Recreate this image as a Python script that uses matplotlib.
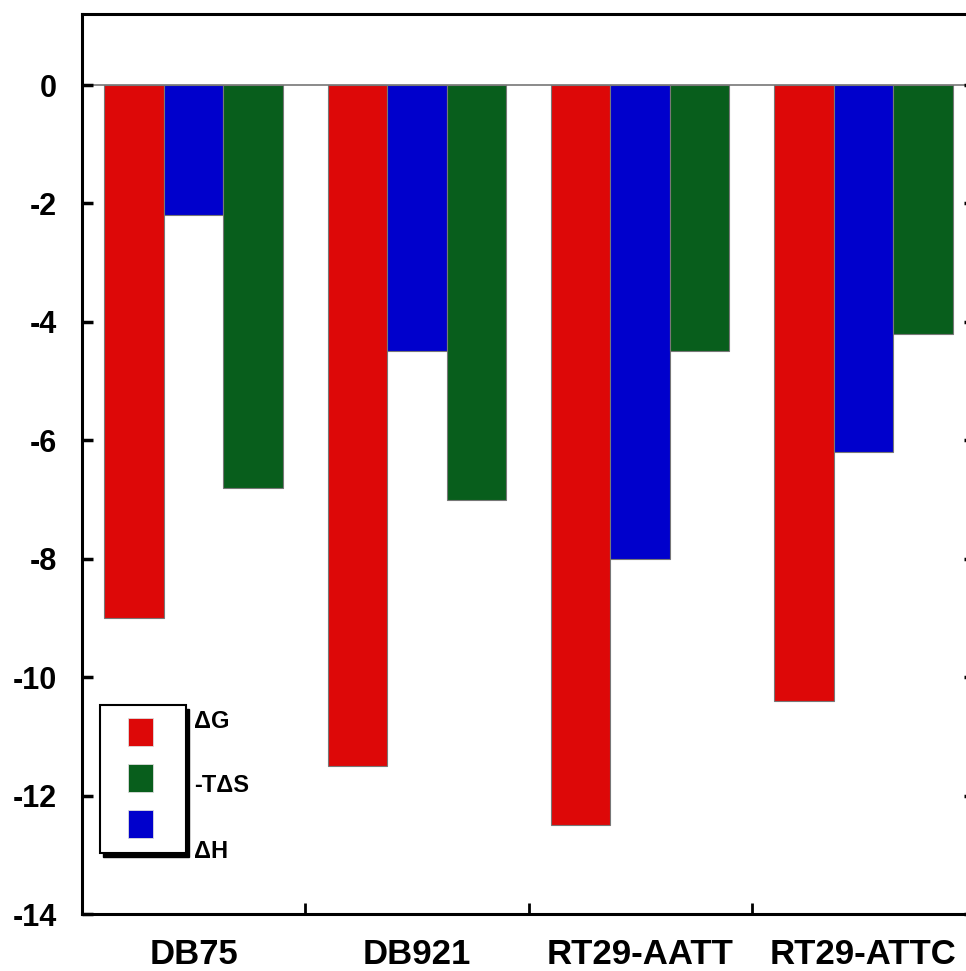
import matplotlib
matplotlib.use("Agg")
import matplotlib.pyplot as plt
import numpy as np
from matplotlib.patches import Rectangle

# values (kcal/mol)
groups = ["DB75", "DB921", "RT29-AATT", "RT29-ATTC"]
dG = [-9.0, -11.5, -12.5, -10.4]
dH = [-2.2, -4.5, -8.0, -6.2]
mTdS = [-6.8, -7.0, -4.5, -4.2]
yticks = [0, -2, -4, -6, -8, -10, -12, -14]

RED = "#dd0808"
BLUE = "#0000cc"
GREEN = "#085e1c"

W, H = 966, 971
plt.rcParams["font.family"] = ["Liberation Sans", "DejaVu Sans"]
plt.rcParams["font.weight"] = "bold"

fig = plt.figure(figsize=(W / 100, H / 100), dpi=100)


def fx(px):
    return px / W


def fy(py):
    return 1 - py / H


ax = fig.add_axes([fx(82), fy(914), fx(975) - fx(82), fy(14) - fy(914)])

x = np.arange(len(groups))
bw = 0.8 / 3
edge = dict(edgecolor="#777777", linewidth=0.8)
ax.bar(x - bw, dG, bw, color=RED, **edge)
ax.bar(x, dH, bw, color=BLUE, **edge)
ax.bar(x + bw, mTdS, bw, color=GREEN, **edge)
ax.axhline(0, color="#777777", linewidth=1.2, zorder=0)

ax.set_xlim(-0.5, len(groups) - 0.5)
ax.set_ylim(-14, 1.2)

ax.set_yticks(yticks)
ax.set_yticklabels([str(v) for v in yticks], fontsize=22, fontweight="bold")
ax.set_xticks(x[:-1] + 0.5)
ax.set_xticklabels([])
ax.set_xticks(x, minor=True)
ax.set_xticklabels(groups, minor=True, fontsize=25, fontweight="bold")
ax.tick_params(axis="x", which="minor", length=0, pad=17)
ax.tick_params(axis="x", which="major", direction="in", length=8, width=2)
ax.tick_params(axis="y", direction="in", length=8, width=2.5, right=True, pad=18)
for s in ax.spines.values():
    s.set_linewidth(2.2)

# hand drawn legend with drop shadow, labels outside the box
tr = fig.transFigure
fig.add_artist(Rectangle((fx(103), fy(857)), fx(186) - fx(100), fy(705) - fy(853),
                         transform=tr, facecolor="black", edgecolor="black", zorder=5))
fig.add_artist(Rectangle((fx(100), fy(853)), fx(186) - fx(100), fy(705) - fy(853),
                         transform=tr, facecolor="white", edgecolor="black",
                         linewidth=1.5, zorder=6))
items = [(RED, "\u0394G", 732, 721), (GREEN, "-T\u0394S", 778, 785), (BLUE, "\u0394H", 824, 851)]
for col, lab, py, ty in items:
    fig.add_artist(Rectangle((fx(128), fy(py + 14)), fx(153) - fx(128), fy(py - 14) - fy(py + 14),
                             transform=tr, facecolor=col, edgecolor="#dddddd",
                             linewidth=0.6, zorder=7))
    fig.text(fx(194), fy(ty), lab, fontsize=17, fontweight="bold", va="center", ha="left")

fig.savefig("out.png", dpi=100)
